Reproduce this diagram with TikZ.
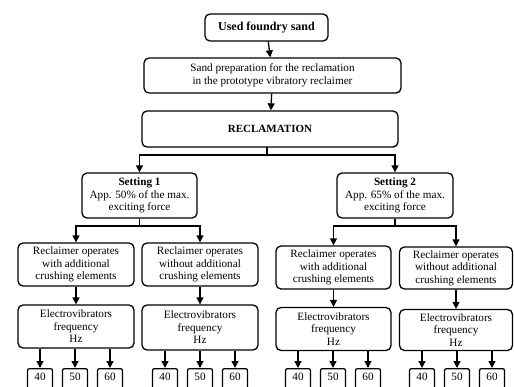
\documentclass[tikz,border=0pt]{standalone}
\usepackage{fontspec}
\setmainfont{Liberation Serif}
\usetikzlibrary{arrows.meta}

\tikzset{
  box/.style={draw, line width=1.3pt, rounded corners=5pt, align=center,
    inner sep=1pt, font=\fontsize{11.2}{12.5}\selectfont},
  numbox/.style={draw, line width=1.3pt, rounded corners=2pt, anchor=north,
    minimum width=25pt, minimum height=30pt, text height=8pt, text depth=14pt,
    inner sep=0pt, font=\fontsize{11.2}{12.5}\selectfont},
  arr/.style={line width=1.3pt, -{Triangle[width=7pt,length=7pt]}},
  ln/.style={line width=1.3pt}
}

\begin{document}
\begin{tikzpicture}[x=1pt,y=-1pt]
\useasboundingbox (0,0) rectangle (514,386);

% top of the chart
\node[box, minimum width=123pt, minimum height=27pt, font=\fontsize{12}{14}\selectfont\bfseries]
  (used) at (266.5,27.5) {Used foundry sand};
\node[box, minimum width=257pt, minimum height=35pt] (prep) at (272.5,75.5)
  {Sand preparation for the reclamation\\in the prototype vibratory reclaimer};
\node[box, minimum width=256pt, minimum height=36pt, font=\fontsize{11}{13}\selectfont\bfseries]
  (recl) at (270,129) {RECLAMATION};

\draw[arr] (used) -- (prep);
\draw[arr] (prep) -- (recl);

% the two settings
\node[box, minimum width=115pt, minimum height=45pt] (set1) at (139.5,195.5)
  {\textbf{Setting 1}\\App. 50\% of the max.\\exciting force};
\node[box, minimum width=116pt, minimum height=45pt] (set2) at (395,195.5)
  {\textbf{Setting 2}\\App. 65\% of the max.\\exciting force};

\coordinate (b0) at (267,155);
\draw[ln] (267,146.5) -- (b0);
\draw[arr] (b0) -| (set1.north);
\draw[arr] (b0) -| (set2.north);

% operation modes
\node[box, minimum width=116pt, minimum height=43pt] (op11) at (76,264.5)
  {Reclaimer operates\\with additional\\crushing elements};
\node[box, minimum width=116pt, minimum height=43pt] (op12) at (200,264.5)
  {Reclaimer operates\\without additional\\crushing elements};
\node[box, minimum width=115pt, minimum height=43pt] (op21) at (333.5,267.5)
  {Reclaimer operates\\with additional\\crushing elements};
\node[box, minimum width=113pt, minimum height=42pt] (op22) at (456,268)
  {Reclaimer operates\\without additional\\crushing elements};

\coordinate (b1) at (set1.south |- 0,226);
\coordinate (b2) at (set2.south |- 0,226);
\draw[ln] (set1.south) -- (b1);
\draw[ln] (set2.south) -- (b2);
\draw[arr] (b1) -| (op11.north);
\draw[arr] (b1) -| (op12.north);
\draw[arr] (b2) -| (op21.north);
\draw[arr] (b2) -| (op22.north);

% frequency boxes
\node[box, minimum width=116pt, minimum height=43pt] (ev11) at (76,326.5)
  {Electrovibrators\\frequency\\Hz};
\node[box, minimum width=116pt, minimum height=45pt] (ev12) at (200,327.5)
  {Electrovibrators\\frequency\\Hz};
\node[box, minimum width=115pt, minimum height=43pt] (ev21) at (333.5,329)
  {Electrovibrators\\frequency\\Hz};
\node[box, minimum width=113pt, minimum height=41pt] (ev22) at (456,330)
  {Electrovibrators\\frequency\\Hz};

\foreach \i in {11,12,21,22}
  \draw[arr] (op\i) -- (ev\i);

% frequencies
\foreach \g/\x in {11/40, 12/165, 21/298, 22/422}{
  \node[numbox] (f\g a) at (\x,368) {40};
  \node[numbox] (f\g b) at (\x+35,368) {50};
  \node[numbox] (f\g c) at (\x+70,368) {60};
  \draw[arr] (ev\g.south -| f\g a) -- (f\g a);
  \draw[arr] (ev\g.south -| f\g b) -- (f\g b);
  \draw[arr] (ev\g.south -| f\g c) -- (f\g c);
}
\end{tikzpicture}
\end{document}
